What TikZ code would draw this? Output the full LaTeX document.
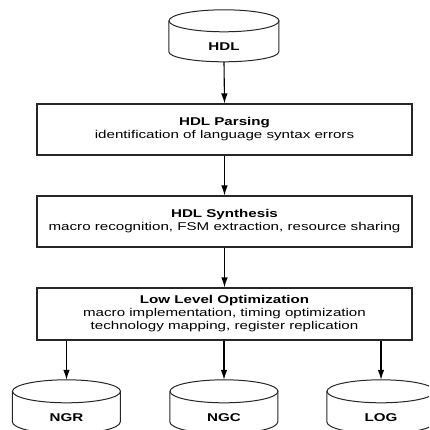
\documentclass[tikz,border=0pt]{standalone}
\usepackage{fontspec}
\newfontfamily\diagfont{Liberation Sans}[FakeStretch=1.34]
\usetikzlibrary{arrows.meta}

\tikzset{
  stagebox/.style={draw=black!85, line width=1.1pt, minimum width=375pt,
    minimum height=51pt, inner sep=0pt, align=center,
    font=\diagfont\fontsize{11.3}{13}\selectfont},
  dbbody/.style={draw=none, inner sep=0pt, minimum width=108pt},
  dblabel/.style={inner sep=0pt, font=\diagfont\bfseries\fontsize{11.3}{13}\selectfont},
  dbline/.style={draw=black!85, line width=1.0pt},
  flow/.style={draw=black, line width=1.1pt, -{Latex[length=10pt,width=6.5pt]}},
}

\begin{document}
\begin{tikzpicture}[x=1pt, y=-1pt]
\useasboundingbox (0,0) rectangle (429,430);
\clip (0,0) rectangle (429,430);

% source file
\node[dbbody, minimum width=110pt, minimum height=52pt] (hdl) at (224,36) {};
\draw[dbline] (hdl.north) ++(0,11) ellipse [x radius=55pt, y radius=11pt];
\draw[dbline] (hdl.north west) ++(0,11) -- ++(0,31)
  arc[start angle=180, end angle=360, x radius=55pt, y radius=10pt] -- ++(0,-31);
\node[dblabel] (hdl-label) at (224,46.5) {HDL};

% processing stages
\node[stagebox] (parse) at (224.5,129.5)
  {\textbf{HDL Parsing}\\identification of language syntax errors};
\node[stagebox] (synth) at (224.5,221.5)
  {\textbf{HDL Synthesis}\\macro recognition, FSM extraction, resource sharing};
\node[stagebox, minimum height=52pt] (lowopt) at (224.5,314)
  {\textbf{Low Level Optimization}\\macro implementation, timing optimization\\technology mapping, register replication};

% output files
\foreach \name/\cx/\txt in {ngr/66.5/NGR, ngc/224/NGC, log/381/LOG}{
  \node[dbbody, minimum height=54pt] (\name) at (\cx,407) {};
  \draw[dbline] (\name.north) ++(0,11.5) ellipse [x radius=54pt, y radius=11.5pt];
  \draw[dbline] (\name.north west) ++(0,11.5) -- ++(0,30.5)
    arc[start angle=180, end angle=360, x radius=54pt, y radius=12pt] -- ++(0,-30.5);
  \node[dblabel] (\name-label) at (\cx,418) {\txt};
}

% flow
\draw[flow] (hdl.south) -- (parse.north);
\draw[flow] (parse.south) -- (synth.north);
\draw[flow] (synth.south) -- (lowopt.north);
\draw[flow] (lowopt.south -| ngr.north) -- (ngr.north);
\draw[flow] (lowopt.south -| ngc.north) -- (ngc.north);
\draw[flow] (lowopt.south -| log.north) -- (log.north);
\end{tikzpicture}
\end{document}
